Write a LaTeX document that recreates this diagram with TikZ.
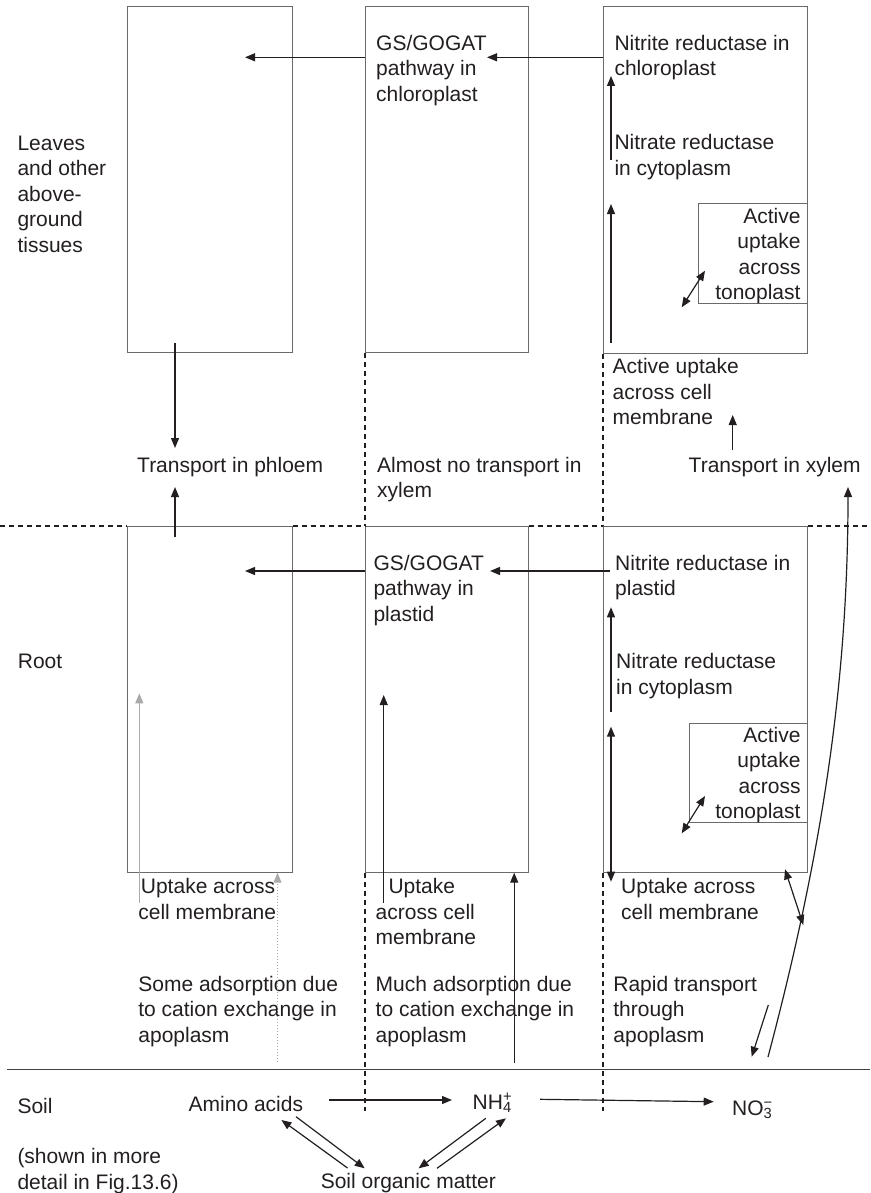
\documentclass[tikz,border=0pt]{standalone}
\usepackage{fontspec}
\setmainfont{Liberation Sans}
\usetikzlibrary{arrows.meta}
\definecolor{ink}{HTML}{231F20}
\definecolor{boxgray}{HTML}{6A6A6A}
\definecolor{lgray}{HTML}{AAAAAA}
\begin{document}
\begin{tikzpicture}[x=1pt,y=-1pt,
  txt/.style={font=\fontsize{21}{25.5}\selectfont, inner sep=0pt, anchor=base west, align=left, text=ink},
  txtr/.style={txt, anchor=base east, align=right},
  cell/.style={draw=boxgray, line width=1pt, inner sep=0pt, anchor=north west},
  arr/.style={draw=ink, line width=1.2pt, -{Triangle[length=10pt,width=8pt]}},
  darr/.style={draw=ink, line width=1.2pt, {Triangle[length=10pt,width=8pt]}-{Triangle[length=10pt,width=8pt]}},
  garr/.style={draw=lgray, line width=1.2pt, -{Triangle[length=10pt,width=8pt]}},
  gdot/.style={draw=lgray, line width=1pt, dotted, -{Triangle[length=10pt,width=8pt]}},
  dashln/.style={draw=ink, line width=1.1pt, dash pattern=on 5pt off 4pt},
  soilln/.style={draw=ink!85, line width=1.1pt}
]
\useasboundingbox (0,0) rectangle (870,1193);

% boxes
\node[cell, minimum width=164.4pt, minimum height=346.3pt] (L1) at (127.3,6) {};
\node[cell, minimum width=162.7pt, minimum height=346.3pt] (M1) at (365,6) {};
\node[cell, minimum width=203.7pt, minimum height=346.5pt] (R1) at (603,6) {};
\node[cell, minimum width=108.4pt, minimum height=99.4pt] (R1in) at (698.3,203.3) {};
\node[cell, minimum width=164.4pt, minimum height=345.7pt] (L2) at (127.3,526) {};
\node[cell, minimum width=162.7pt, minimum height=345.7pt] (M2) at (365,526) {};
\node[cell, minimum width=203.7pt, minimum height=345.7pt] (R2) at (603,526) {};
\node[cell, minimum width=117.4pt, minimum height=99.6pt] (R2in) at (689.3,722.7) {};

% dashed separators
\coordinate (h0) at (0,526);
\coordinate (h9) at (870,526);
\draw[dashln] (h0) -- (L2.north west);
\draw[dashln] (L2.north east) -- (M2.north west);
\draw[dashln] (M2.north east) -- (R2.north west);
\draw[dashln] (R2.north east) -- (h9);
\coordinate (vm) at (365,1111);
\coordinate (vr) at (603,1111);
\draw[dashln] (M1.south west) -- (M2.north west);
\draw[dashln] (R1.south west) -- (R2.north west);
\draw[dashln] (M2.south west) -- (vm);
\draw[dashln] (R2.south west) -- (vr);
% soil line
\coordinate (s0) at (7,1069.3);
\coordinate (s9) at (870,1069.3);
\draw[soilln] (s0) -- (s9);

% texts (anchor = baseline of the LAST line)
\node[txt] (lv) at (17.3,252.3) {Leaves\\and other\\above-\\ground\\tissues};
\node[txt] (rt) at (17.7,668.7) {Root};
\node[txt] (sl) at (17.3,1113) {Soil};
\node[txt] (sh) at (17.3,1189.2) {(shown in more\\detail in Fig.13.6)};

% top row texts
\node[txt] (gs1) at (376,101.5) {GS/GOGAT\\pathway in\\chloroplast};
\node[txt] (nit1) at (614.3,76) {Nitrite reductase in\\chloroplast};
\node[txt] (nat1) at (614.3,175.5) {Nitrate reductase\\in cytoplasm};
\node[txtr] (act1) at (800.7,299.5) {Active\\uptake\\across\\tonoplast};
\node[txt] (acu1) at (612.5,424.7) {Active uptake\\across cell\\membrane};
\node[txt] (tph) at (137,472) {Transport in phloem};
\node[txt] (anx) at (377,497.5) {Almost no transport in\\xylem};
\node[txt] (txy) at (688.5,472) {Transport in xylem};

% root row texts
\node[txt] (gs2) at (373.3,621.3) {GS/GOGAT\\pathway in\\plastid};
\node[txt] (nit2) at (615,595.8) {Nitrite reductase in\\plastid};
\node[txt] (nat2) at (616,694.2) {Nitrate reductase\\in cytoplasm};
\node[txtr] (act2) at (800.7,818.5) {Active\\uptake\\across\\tonoplast};
\node[txt] (upL) at (138.2,919.2) {\hspace*{2.5pt}Uptake across\\cell membrane};
\node[txt] (upM) at (375.5,944.7) {\hspace*{12.8pt}Uptake\\across cell\\membrane};
\node[txt] (upR) at (621,919) {Uptake across\\cell membrane};
\node[txt] (sad) at (138.2,1042) {Some adsorption due\\to cation exchange in\\apoplasm};
\node[txt] (mad) at (375.5,1042) {Much adsorption due\\to cation exchange in\\apoplasm};
\node[txt] (rap) at (613.2,1042) {Rapid transport\\through\\apoplasm};

% soil texts
\node[txt] (ami) at (188.5,1111.5) {Amino acids};
\node[txt] (nh4) at (472.5,1109) {NH\rlap{\textsuperscript{+}}\textsubscript{4}};
\node[txt] (no3) at (732,1115) {NO\rlap{\textsuperscript{−}}\textsubscript{3}};
\node[txt] (som) at (320.6,1188) {Soil organic matter};

% arrow end points
\coordinate (a1s) at (365,57.3);   \coordinate (a1e) at (245,57.3);
\coordinate (a2s) at (603,57.3);   \coordinate (a2e) at (487,57.3);
\coordinate (a3s) at (611,160);    \coordinate (a3e) at (611,76);
\coordinate (a4s) at (611,343);    \coordinate (a4e) at (611,204);
\coordinate (a5s) at (681.7,307.3);\coordinate (a5e) at (705,270.7);
\coordinate (a6s) at (175,343);    \coordinate (a6e) at (175,448);
\coordinate (a7s) at (175,537);    \coordinate (a7e) at (175,487);
\coordinate (a8s) at (732.7,450);  \coordinate (a8e) at (732.7,415);
\coordinate (a9s) at (365,571);    \coordinate (a9e) at (245,571);
\coordinate (b1s) at (610,571);    \coordinate (b1e) at (490,571);
\coordinate (b2s) at (611,711.7);  \coordinate (b2e) at (611,607.3);
\coordinate (b3s) at (611,726.7);  \coordinate (b3e) at (611,881.7);
\coordinate (b4s) at (681.7,833.3);\coordinate (b4e) at (705,796);
\coordinate (b5s) at (139.3,902.7);\coordinate (b5e) at (139.3,693.3);
\coordinate (b6s) at (277.5,1061.7);\coordinate (b6e) at (277.5,872.7);
\coordinate (b7s) at (383.7,902.7);\coordinate (b7e) at (383.7,695);
\coordinate (b8s) at (514.2,1063); \coordinate (b8e) at (514.2,872.7);
\coordinate (b9s) at (785,869.3);  \coordinate (b9e) at (803.3,925);
\coordinate (c1s) at (768,1057);   \coordinate (c1e) at (848,487);
\coordinate (c1a) at (820.5,859);  \coordinate (c1b) at (848,687);
\coordinate (c2s) at (768.3,1005); \coordinate (c2e) at (751.7,1056.7);
\coordinate (c3s) at (329,1100);   \coordinate (c3e) at (452,1100);
\coordinate (c4s) at (540,1099.3); \coordinate (c4e) at (713.7,1101.7);
\coordinate (c5s) at (347.5,1168); \coordinate (c5e) at (281.4,1120);
\coordinate (c6s) at (296,1116.7); \coordinate (c6e) at (364.7,1168.3);
\coordinate (c7s) at (485.8,1118.3);\coordinate (c7e) at (418.6,1168.3);
\coordinate (c8s) at (437,1168.3); \coordinate (c8e) at (506,1118.3);

% arrows
\draw[arr] (a1s) -- (a1e);
\draw[arr] (a2s) -- (a2e);
\draw[arr] (a3s) -- (a3e);
\draw[arr] (a4s) -- (a4e);
\draw[darr] (a5s) -- (a5e);
\draw[arr] (a6s) -- (a6e);
\draw[arr] (a7s) -- (a7e);
\draw[arr] (a8s) -- (a8e);
\draw[arr] (a9s) -- (a9e);
\draw[arr] (b1s) -- (b1e);
\draw[arr] (b2s) -- (b2e);
\draw[darr] (b3s) -- (b3e);
\draw[darr] (b4s) -- (b4e);
\draw[garr] (b5s) -- (b5e);
\draw[gdot] (b6s) -- (b6e);
\draw[arr] (b7s) -- (b7e);
\draw[arr] (b8s) -- (b8e);
\draw[darr] (b9s) -- (b9e);
\draw[arr] (c1s) .. controls (c1a) and (c1b) .. (c1e);
\draw[arr] (c2s) -- (c2e);
\draw[arr] (c3s) -- (c3e);
\draw[arr] (c4s) -- (c4e);
\draw[arr] (c5s) -- (c5e);
\draw[arr] (c6s) -- (c6e);
\draw[arr] (c7s) -- (c7e);
\draw[arr] (c8s) -- (c8e);
\end{tikzpicture}
\end{document}
